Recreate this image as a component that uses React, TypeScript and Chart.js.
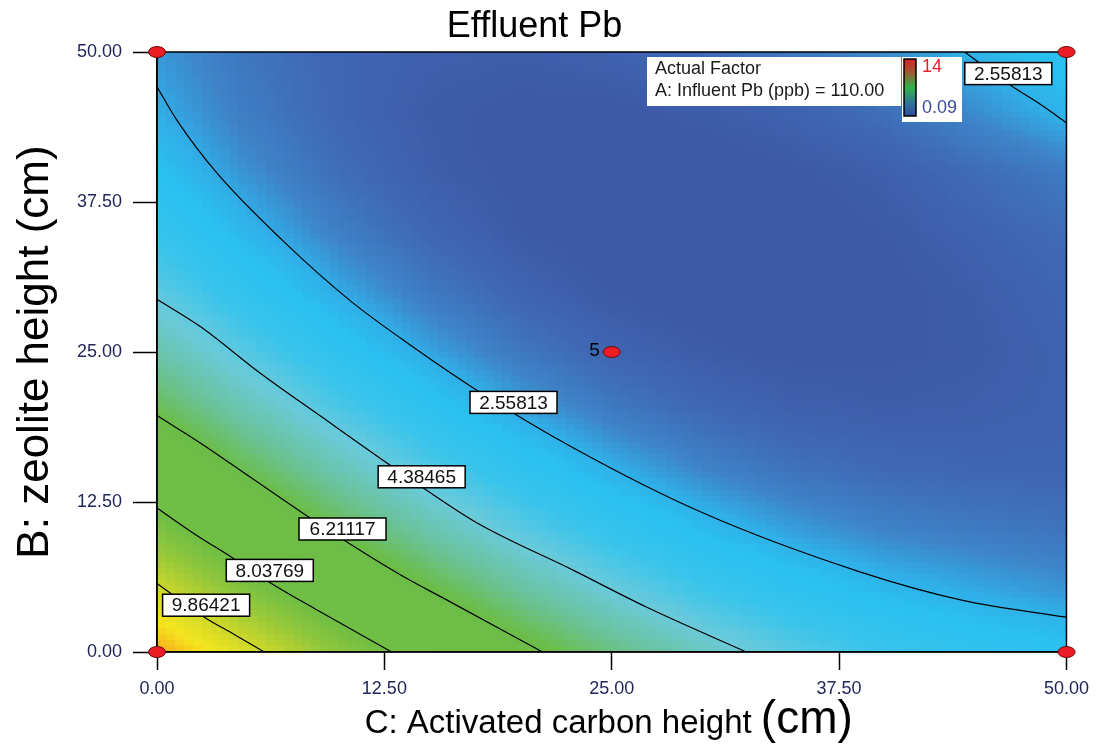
import React, { useEffect, useRef } from 'react';
import { Chart, registerables } from 'chart.js';

Chart.register(...registerables);

const FONT = "'Liberation Sans', Arial, Helvetica, sans-serif";

// ---- texts ----
const TITLE = 'Effluent Pb';
const X_TITLE_MAIN = 'C: Activated carbon height';
const X_TITLE_UNIT = '(cm)';
const Y_TITLE = 'B: zeolite height (cm)';
const FACTOR_LINES = ['Actual Factor', 'A: Influent Pb (ppb) = 110.00'];
const SCALE_MIN = 0.09;
const SCALE_MAX = 14;
const SCALE_MIN_LABEL = '0.09';
const SCALE_MAX_LABEL = '14';

// ---- axes ----
const AXIS_TICKS = [0, 12.5, 25, 37.5, 50];

// ---- response surface (Effluent Pb, ppb) ----
// columns: C (activated carbon height) 0..50, rows: B (zeolite height) 0..50
const GRID_C = [0, 5, 10, 15, 20, 25, 30, 35, 40, 45, 50];
const GRID_B = [0, 5, 10, 15, 20, 25, 30, 35, 40, 45, 50];
const GRID_B0 = [11.7, 10.17, 8.79, 7.56, 6.47, 5.53, 4.74, 4.09, 3.59, 3.23, 3.03];
const GRID_B5 = [10.05, 8.63, 7.35, 6.22, 5.24, 4.4, 3.71, 3.17, 2.77, 2.52, 2.3];
const GRID_B10 = [8.56, 7.24, 6.07, 5.04, 4.16, 3.43, 2.85, 2.41, 2.11, 1.95, 1.82];
const GRID_B15 = [7.22, 6.01, 4.94, 4.02, 3.25, 2.62, 2.14, 1.8, 1.61, 1.52, 1.5];
const GRID_B20 = [6.05, 4.94, 3.98, 3.16, 2.49, 1.96, 1.59, 1.36, 1.27, 1.3, 1.4];
const GRID_B25 = [5.03, 4.03, 3.17, 2.45, 1.89, 1.47, 1.2, 1.07, 1.09, 1.2, 1.4];
const GRID_B30 = [4.17, 3.27, 2.52, 1.91, 1.45, 1.13, 0.96, 0.94, 1.05, 1.25, 1.5];
const GRID_B35 = [3.47, 2.68, 2.03, 1.52, 1.16, 0.95, 0.89, 0.97, 1.15, 1.4, 1.65];
const GRID_B40 = [2.93, 2.24, 1.69, 1.29, 1.04, 0.93, 0.97, 1.1, 1.3, 1.65, 1.95];
const GRID_B45 = [2.55, 1.96, 1.52, 1.22, 1.07, 1.07, 1.22, 1.4, 1.72, 2.2, 2.66];
const GRID_B50 = [2.33, 1.84, 1.5, 1.31, 1.27, 1.37, 1.62, 1.9, 2.2, 2.62, 3.05];
const GRID_VALUES = [GRID_B0, GRID_B5, GRID_B10, GRID_B15, GRID_B20, GRID_B25, GRID_B30, GRID_B35, GRID_B40, GRID_B45, GRID_B50];

// ---- contour lines [C, B] ----
const CONTOUR_2_55813_A: [number, number][] = [
  [0, 47.1], [1.1, 44.3], [3.3, 39.9], [6.9, 34.3], [10.6, 29.3], [14, 25.5], [17.6, 21.8],
  [22.9, 17.0], [30, 11.6], [38.6, 6.7], [44.3, 4.3], [50, 2.9],
];
const CONTOUR_2_55813_B: [number, number][] = [[44.4, 50], [46.9, 47.25], [48.6, 45.6], [50, 44.1]];
const CONTOUR_4_38465: [number, number][] = [
  [0, 29.4], [2.4, 27.1], [5.7, 23.2], [9.7, 18.9], [12.4, 16.0], [14.6, 13.7], [17.6, 10.75],
  [22.9, 6.8], [26.9, 3.75], [32.4, 0],
];
const CONTOUR_6_21117: [number, number][] = [
  [0, 19.7], [2.4, 17.4], [5.1, 14.6], [7.8, 11.8], [10.4, 9.2], [13.3, 6.5], [16.1, 4.2], [21.2, 0],
];
const CONTOUR_8_03769: [number, number][] = [[0, 12.0], [2.0, 9.9], [4.2, 7.8], [6.2, 5.8], [8.8, 3.5], [12.9, 0]];
const CONTOUR_9_86421: [number, number][] = [[0, 5.7], [1.3, 4.3], [2.6, 2.9], [4.2, 1.5], [5.9, 0]];
const CONTOURS = [CONTOUR_2_55813_A, CONTOUR_2_55813_B, CONTOUR_4_38465, CONTOUR_6_21117, CONTOUR_8_03769, CONTOUR_9_86421];

// contour labels: text, C, B
const LABEL_TEXTS = ['2.55813', '2.55813', '4.38465', '6.21117', '8.03769', '9.86421'];
const LABEL_C = [19.6, 46.8, 14.55, 10.2, 6.2, 2.7];
const LABEL_B = [20.8, 48.2, 14.6, 10.25, 6.8, 3.9];

// design points
const DESIGN_C = [0, 0, 50, 50, 25];
const DESIGN_B = [0, 50, 0, 50, 25];
const DESIGN_LABELS = ['', '', '', '', '5'];

// ---- colour map (style) ----
const COLOR_STOPS: [number, number[]][] = [
  [0.0, [59, 84, 164]],
  [0.075, [61, 90, 168]],
  [0.11, [63, 106, 182]],
  [0.145, [62, 132, 200]],
  [0.178, [48, 176, 232]],
  [0.202, [42, 192, 240]],
  [0.252, [56, 196, 236]],
  [0.308, [106, 202, 218]],
  [0.375, [106, 194, 150]],
  [0.432, [108, 189, 72]],
  [0.58, [112, 190, 68]],
  [0.64, [150, 200, 58]],
  [0.7, [200, 214, 44]],
  [0.77, [244, 230, 30]],
  [0.83, [248, 172, 30]],
  [1.0, [237, 28, 36]],
];

function colorFor(v: number): string {
  let t = (v - SCALE_MIN) / (SCALE_MAX - SCALE_MIN);
  t = Math.max(0, Math.min(1, t));
  for (let k = 0; k < COLOR_STOPS.length - 1; k++) {
    const [t0, c0] = COLOR_STOPS[k];
    const [t1, c1] = COLOR_STOPS[k + 1];
    if (t <= t1) {
      const u = (t - t0) / (t1 - t0);
      const r = Math.round(c0[0] + (c1[0] - c0[0]) * u);
      const g = Math.round(c0[1] + (c1[1] - c0[1]) * u);
      const b = Math.round(c0[2] + (c1[2] - c0[2]) * u);
      return `rgb(${r},${g},${b})`;
    }
  }
  const c = COLOR_STOPS[COLOR_STOPS.length - 1][1];
  return `rgb(${c[0]},${c[1]},${c[2]})`;
}

function surface(c: number, b: number): number {
  const n = GRID_C.length - 1;
  let i = 0;
  while (i < n - 1 && c > GRID_C[i + 1]) i++;
  let j = 0;
  while (j < n - 1 && b > GRID_B[j + 1]) j++;
  const u = (c - GRID_C[i]) / (GRID_C[i + 1] - GRID_C[i]);
  const v = (b - GRID_B[j]) / (GRID_B[j + 1] - GRID_B[j]);
  const z00 = GRID_VALUES[j][i];
  const z10 = GRID_VALUES[j][i + 1];
  const z01 = GRID_VALUES[j + 1][i];
  const z11 = GRID_VALUES[j + 1][i + 1];
  return z00 * (1 - u) * (1 - v) + z10 * u * (1 - v) + z01 * (1 - u) * v + z11 * u * v;
}

const heatPlugin = {
  id: 'heatmap',
  beforeDraw(chart: any) {
    const { ctx, chartArea } = chart;
    const xs = chart.scales.x;
    const ys = chart.scales.y;
    if (!chartArea) return;
    ctx.save();
    ctx.fillStyle = '#fff';
    ctx.fillRect(0, 0, chart.width, chart.height);
    const N = 100;
    const step = 50 / N;
    for (let a = 0; a < N; a++) {
      const c0 = a * step;
      const c1 = c0 + step;
      const px0 = Math.floor(xs.getPixelForValue(c0));
      const px1 = Math.ceil(xs.getPixelForValue(c1));
      for (let bI = 0; bI < N; bI++) {
        const b0 = bI * step;
        const b1 = b0 + step;
        const py0 = Math.floor(ys.getPixelForValue(b1));
        const py1 = Math.ceil(ys.getPixelForValue(b0));
        ctx.fillStyle = colorFor(surface(c0 + step / 2, b0 + step / 2));
        ctx.fillRect(px0, py0, px1 - px0, py1 - py0);
      }
    }
    ctx.restore();
  },
  beforeDatasetsDraw(chart: any) {
    const { ctx, chartArea } = chart;
    ctx.save();
    ctx.strokeStyle = '#000';
    ctx.lineWidth = 1.5;
    ctx.strokeRect(chartArea.left, chartArea.top, chartArea.right - chartArea.left, chartArea.bottom - chartArea.top);
    ctx.restore();
  },
};

const overlayPlugin = {
  id: 'overlay',
  afterDatasetsDraw(chart: any) {
    const { ctx, chartArea } = chart;
    const xs = chart.scales.x;
    const ys = chart.scales.y;
    ctx.save();

    // contour labels
    ctx.font = `19px ${FONT}`;
    ctx.textAlign = 'center';
    ctx.textBaseline = 'middle';
    LABEL_TEXTS.forEach((t, k) => {
      const px = xs.getPixelForValue(LABEL_C[k]);
      const py = ys.getPixelForValue(LABEL_B[k]);
      const w = 87;
      const h = 22;
      ctx.fillStyle = '#fff';
      ctx.fillRect(px - w / 2, py - h / 2, w, h);
      ctx.strokeStyle = '#000';
      ctx.lineWidth = 1.5;
      ctx.strokeRect(px - w / 2, py - h / 2, w, h);
      ctx.fillStyle = '#111';
      ctx.fillText(t, px, py + 1);
    });

    // design point replicate labels
    ctx.font = `19px ${FONT}`;
    ctx.textAlign = 'right';
    ctx.fillStyle = '#000';
    DESIGN_LABELS.forEach((t, k) => {
      if (!t) return;
      ctx.fillText(t, xs.getPixelForValue(DESIGN_C[k]) - 12, ys.getPixelForValue(DESIGN_B[k]) - 1);
    });

    // factor box
    const bx = chartArea.left + 490;
    const by = chartArea.top + 5;
    ctx.fillStyle = '#fff';
    ctx.fillRect(bx, by, 254, 49);
    ctx.font = `18px ${FONT}`;
    ctx.textAlign = 'left';
    ctx.fillStyle = '#1a1a1a';
    ctx.fillText(FACTOR_LINES[0], bx + 8, by + 12);
    ctx.fillText(FACTOR_LINES[1], bx + 8, by + 34);

    // colour bar
    const cbx = bx + 255;
    ctx.fillStyle = '#fff';
    ctx.fillRect(cbx, by, 60, 65);
    const gx = cbx + 2;
    const gy = by + 2;
    const gw = 12;
    const gh = 57;
    const grad = ctx.createLinearGradient(0, gy, 0, gy + gh);
    grad.addColorStop(0, '#d42426');
    grad.addColorStop(0.2, '#a8502e');
    grad.addColorStop(0.5, '#2fb34a');
    grad.addColorStop(0.8, '#2f6f9c');
    grad.addColorStop(1, '#2c4a9c');
    ctx.fillStyle = grad;
    ctx.fillRect(gx, gy, gw, gh);
    ctx.strokeStyle = '#000';
    ctx.lineWidth = 1.5;
    ctx.strokeRect(gx, gy, gw, gh);
    ctx.font = `18px ${FONT}`;
    ctx.fillStyle = '#e8202a';
    ctx.fillText(SCALE_MAX_LABEL, gx + 18, gy + 8);
    ctx.fillStyle = '#3a4ea0';
    ctx.fillText(SCALE_MIN_LABEL, gx + 18, gy + 49);

    ctx.restore();
  },
  afterDraw(chart: any) {
    const { ctx, chartArea } = chart;
    ctx.save();
    ctx.fillStyle = '#000';
    ctx.textBaseline = 'alphabetic';
    ctx.textAlign = 'left';
    const mainFont = `33px ${FONT}`;
    const unitFont = `46px ${FONT}`;
    ctx.font = mainFont;
    const w1 = ctx.measureText(X_TITLE_MAIN + ' ').width;
    ctx.font = unitFont;
    const w2 = ctx.measureText(X_TITLE_UNIT).width;
    const cx = (chartArea.left + chartArea.right) / 2 - 3;
    const x0 = cx - (w1 + w2) / 2;
    const base = chartArea.bottom + 81;
    ctx.font = mainFont;
    ctx.fillText(X_TITLE_MAIN, x0, base);
    ctx.font = unitFont;
    ctx.fillText(X_TITLE_UNIT, x0 + w1, base);
    ctx.restore();
  },
};

function makeDot(): HTMLCanvasElement {
  const c = document.createElement('canvas');
  c.width = 20;
  c.height = 14;
  const g = c.getContext('2d')!;
  g.beginPath();
  g.ellipse(10, 7, 8.5, 5.5, 0, 0, Math.PI * 2);
  g.fillStyle = '#ee1c25';
  g.fill();
  g.lineWidth = 1;
  g.strokeStyle = '#6a0a0a';
  g.stroke();
  return c;
}

export default function App() {
  const ref = useRef<HTMLCanvasElement | null>(null);

  useEffect(() => {
    if (!ref.current) return;
    const dot = makeDot();
    const datasets: any[] = [
      {
        label: 'Design points',
        data: DESIGN_C.map((c, k) => ({ x: c, y: DESIGN_B[k] })),
        pointStyle: dot,
        pointRadius: 8,
        showLine: false,
        clip: false,
        order: 0,
      },
      ...CONTOURS.map((pts, k) => ({
        label: `contour ${k}`,
        data: pts.map(([c, b]) => ({ x: c, y: b })),
        showLine: true,
        pointRadius: 0,
        borderColor: '#000',
        borderWidth: 1.2,
        cubicInterpolationMode: 'monotone',
        fill: false,
        order: 1,
      })),
    ];

    const tickFont = { size: 18, family: FONT };
    const chart = new Chart(ref.current, {
      type: 'scatter',
      data: { datasets },
      options: {
        animation: false,
        responsive: false,
        events: [],
        layout: { padding: { left: 0, right: 28, top: 0, bottom: 0 } },
        plugins: {
          legend: { display: false },
          tooltip: { enabled: false },
          title: {
            display: true,
            text: TITLE,
            color: '#000',
            font: { size: 36, family: FONT, weight: 'normal', lineHeight: 1.2 },
            padding: { top: 5, bottom: 3.8 },
          },
        },
        scales: {
          x: {
            type: 'linear',
            min: 0,
            max: 50,
            afterBuildTicks: (s: any) => {
              s.ticks = AXIS_TICKS.map((v) => ({ value: v }));
            },
            afterFit: (s: any) => {
              s.height = 97;
            },
            ticks: {
              callback: (v: any) => Number(v).toFixed(2),
              font: tickFont,
              color: '#23265a',
              padding: 8,
              maxRotation: 0,
              autoSkip: false,
            },
            grid: { drawOnChartArea: false, drawTicks: true, tickLength: 18, tickColor: '#000', tickWidth: 1.5 },
            border: { display: true, color: '#000', width: 1.5 },
            title: { display: false },
          },
          y: {
            type: 'linear',
            min: 0,
            max: 50,
            afterBuildTicks: (s: any) => {
              s.ticks = AXIS_TICKS.map((v) => ({ value: v }));
            },
            afterFit: (s: any) => {
              s.width = 157;
            },
            ticks: {
              callback: (v: any) => Number(v).toFixed(2),
              font: tickFont,
              color: '#23265a',
              padding: 11,
              autoSkip: false,
            },
            grid: { drawOnChartArea: false, drawTicks: true, tickLength: 24, tickColor: '#000', tickWidth: 1.5 },
            border: { display: true, color: '#000', width: 1.5 },
            title: {
              display: true,
              text: Y_TITLE,
              color: '#000',
              font: { size: 44, family: FONT, lineHeight: 1 },
              padding: { top: 14, bottom: 0 },
            },
          },
        },
      } as any,
      plugins: [heatPlugin, overlayPlugin],
    });
    return () => chart.destroy();
  }, []);

  return (
    <div style={{ position: 'absolute', left: 0, top: 0, width: 1097, height: 749, background: '#fff' }}>
      <canvas ref={ref} width={1097} height={749} style={{ display: 'block', width: 1097, height: 749 }} />
    </div>
  );
}
